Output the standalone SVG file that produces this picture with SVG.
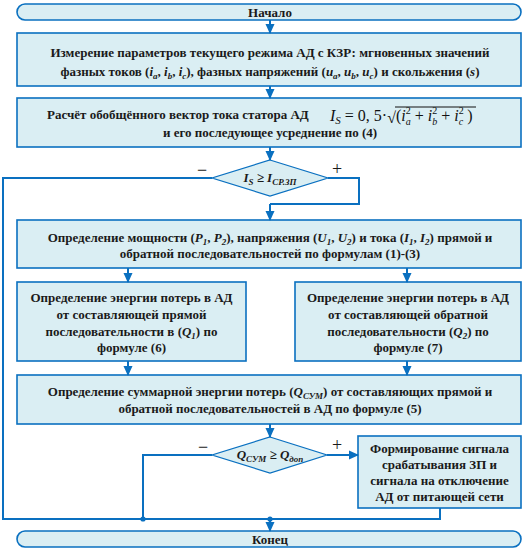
<svg xmlns="http://www.w3.org/2000/svg" width="524" height="555" viewBox="0 0 524 555">
<defs>
<style>
.box{fill:#daeef3;stroke:#0a70c0;stroke-width:1.6}
.dia{fill:#daeef3;stroke:#0a70c0;stroke-width:1.2}
.t{font-family:"Liberation Serif","Times New Roman",serif;font-weight:bold;font-size:13px;fill:#1a1a1a;text-anchor:middle}
.i{font-style:italic}
.sub{font-size:9px}
.c{fill:none;stroke:#0a70c0;stroke-width:2}
.sign{font-family:"Liberation Serif",serif;font-size:18px;fill:#1a1a1a;text-anchor:middle}
.m{font-family:"Liberation Serif","Times New Roman",serif;font-size:16px;fill:#111}
</style>
<marker id="ah" markerUnits="userSpaceOnUse" markerWidth="10" markerHeight="10" viewBox="0 0 10 10" refX="9" refY="5" orient="auto">
<path d="M0,0.5 L10,5 L0,9.5 z" fill="#0a70c0"/>
</marker>
</defs>

<g id="start">
<rect class="box" x="17" y="4" width="504" height="16" rx="8" ry="8"/>
<text class="t" x="270" y="17">Начало</text>
</g>

<g id="measure">
<rect class="box" x="17" y="33" width="504" height="53"/>
<text class="t" x="270" y="57">Измерение параметров текущего режима АД с КЗР: мгновенных значений</text>
<text class="t" x="270" y="76">фазных токов (<tspan class="i">i</tspan><tspan class="sub i" dy="3">a</tspan><tspan dy="-3">, </tspan><tspan class="i">i</tspan><tspan class="sub i" dy="3">b</tspan><tspan dy="-3">, </tspan><tspan class="i">i</tspan><tspan class="sub i" dy="3">c</tspan><tspan dy="-3">), фазных напряжений (</tspan><tspan class="i">u</tspan><tspan class="sub i" dy="3">a</tspan><tspan dy="-3">, </tspan><tspan class="i">u</tspan><tspan class="sub i" dy="3">b</tspan><tspan dy="-3">, </tspan><tspan class="i">u</tspan><tspan class="sub i" dy="3">c</tspan><tspan dy="-3">) и скольжения (</tspan><tspan class="i">s</tspan>)</text>
</g>

<g id="vector">
<rect class="box" x="17" y="98" width="504" height="49"/>
<text class="t" x="47" y="119" style="text-anchor:start">Расчёт обобщённого вектор тока статора  АД</text>
<text class="m" x="330" y="121"><tspan class="i">I</tspan><tspan class="i" font-size="11" dy="3">S</tspan><tspan dy="-3"> = 0, 5·</tspan><tspan dy="2">√</tspan><tspan dy="-2">(</tspan><tspan class="i">i</tspan><tspan font-size="10" dy="-7">2</tspan><tspan class="i" font-size="10" dx="-5" dy="11">a</tspan><tspan dy="-4"> + </tspan><tspan class="i">i</tspan><tspan font-size="10" dy="-7">2</tspan><tspan class="i" font-size="10" dx="-5" dy="11">b</tspan><tspan dy="-4"> + </tspan><tspan class="i">i</tspan><tspan font-size="10" dy="-7">2</tspan><tspan class="i" font-size="10" dx="-5" dy="11">c</tspan><tspan dy="-4"> )</tspan></text>
<line x1="395" y1="107" x2="476" y2="107" stroke="#111" stroke-width="1"/>
<text class="t" x="270" y="137">и его последующее усреднение по (4)</text>
</g>

<g id="cond1">
<polygon class="dia" points="270,160 328,178 270,196 212,178"/>
<text class="t i" x="270" y="182">I<tspan class="sub" dy="3">S</tspan><tspan dy="-3"> ≥ I</tspan><tspan class="sub" dy="3">СР.ЗП</tspan></text>
<text class="sign" x="202" y="176">−</text>
<text class="sign" x="337" y="175">+</text>
</g>

<g id="powers">
<rect class="box" x="17" y="220" width="504" height="48"/>
<text class="t" x="270" y="242">Определение мощности (<tspan class="i">P</tspan><tspan class="sub i" dy="3">1</tspan><tspan dy="-3">, </tspan><tspan class="i">P</tspan><tspan class="sub i" dy="3">2</tspan><tspan dy="-3">), напряжения (</tspan><tspan class="i">U</tspan><tspan class="sub i" dy="3">1</tspan><tspan dy="-3">, </tspan><tspan class="i">U</tspan><tspan class="sub i" dy="3">2</tspan><tspan dy="-3">) и тока (</tspan><tspan class="i">I</tspan><tspan class="sub i" dy="3">1</tspan><tspan dy="-3">, </tspan><tspan class="i">I</tspan><tspan class="sub i" dy="3">2</tspan><tspan dy="-3">) прямой и</tspan></text>
<text class="t" x="270" y="258">обратной последовательностей по формулам (1)-(3)</text>
</g>

<g id="loss1">
<rect class="box" x="17" y="282" width="229" height="79"/>
<text class="t" x="131.5" y="302">Определение энергии потерь в АД</text>
<text class="t" x="131.5" y="318.5">от составляющей прямой</text>
<text class="t" x="131.5" y="335.5">последовательности в  (<tspan class="i">Q</tspan><tspan class="sub i" dy="3">1</tspan><tspan dy="-3">) по</tspan></text>
<text class="t" x="131.5" y="352">формуле (6)</text>
</g>

<g id="loss2">
<rect class="box" x="295" y="282" width="226" height="79"/>
<text class="t" x="408" y="302">Определение энергии потерь в АД</text>
<text class="t" x="408" y="318.5">от составляющей обратной</text>
<text class="t" x="408" y="335.5">последовательности (<tspan class="i">Q</tspan><tspan class="sub i" dy="3">2</tspan><tspan dy="-3">) по</tspan></text>
<text class="t" x="408" y="352">формуле (7)</text>
</g>

<g id="sum">
<rect class="box" x="17" y="375" width="504" height="49"/>
<text class="t" x="270" y="396">Определение суммарной энергии потерь (<tspan class="i">Q</tspan><tspan class="sub i" dy="3">СУМ</tspan><tspan dy="-3">) от составляющих прямой и</tspan></text>
<text class="t" x="270" y="413">обратной последовательностей в АД по формуле (5)</text>
</g>

<g id="cond2">
<polygon class="dia" points="270,437 327,455 270,473 212,455"/>
<text class="t i" x="270" y="459">Q<tspan class="sub" dy="3">СУМ</tspan><tspan dy="-3"> ≥ Q</tspan><tspan class="sub" dy="3">доп</tspan></text>
<text class="sign" x="203" y="453">−</text>
<text class="sign" x="337" y="451">+</text>
</g>

<g id="signal">
<rect class="box" x="358" y="436" width="163" height="72"/>
<text class="t" x="439.5" y="452.5">Формирование сигнала</text>
<text class="t" x="439.5" y="469">срабатывания ЗП и</text>
<text class="t" x="439.5" y="484.5">сигнала на отключение</text>
<text class="t" x="439.5" y="500.5">АД от питающей сети</text>
</g>

<g id="end">
<rect class="box" x="17" y="531" width="504" height="16" rx="8" ry="8"/>
<text class="t" x="270" y="544">Конец</text>
</g>

<g id="connectors">
<line class="c" x1="270" y1="20" x2="270" y2="33" marker-end="url(#ah)"/>
<line class="c" x1="270" y1="86" x2="270" y2="98" marker-end="url(#ah)"/>
<line class="c" x1="270" y1="147" x2="270" y2="160" marker-end="url(#ah)"/>
<polyline class="c" points="328,178 359,178 359,204 270,204"/>
<line class="c" x1="270" y1="204" x2="270" y2="220" marker-end="url(#ah)"/>
<polyline class="c" points="212,178 3,178 3,519 440,519 440,508"/>
<line class="c" x1="128" y1="268" x2="128" y2="282" marker-end="url(#ah)"/>
<line class="c" x1="407" y1="268" x2="407" y2="282" marker-end="url(#ah)"/>
<line class="c" x1="128" y1="361" x2="128" y2="375" marker-end="url(#ah)"/>
<line class="c" x1="407" y1="361" x2="407" y2="375" marker-end="url(#ah)"/>
<line class="c" x1="270" y1="424" x2="270" y2="437" marker-end="url(#ah)"/>
<line class="c" x1="327" y1="455" x2="358" y2="455" marker-end="url(#ah)"/>
<polyline class="c" points="212,455 143,455 143,519"/>
<line class="c" x1="270" y1="519" x2="270" y2="531" marker-end="url(#ah)"/>
<circle cx="143" cy="519" r="2.6" fill="#0a70c0"/>
<circle cx="270" cy="519" r="2.6" fill="#0a70c0"/>
</g>
</svg>
